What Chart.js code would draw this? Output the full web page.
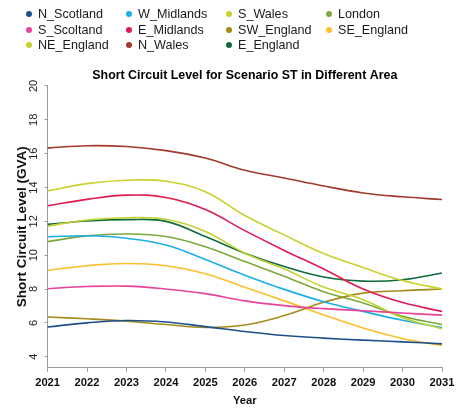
<!DOCTYPE html>
<html>
<head>
<meta charset="utf-8">
<script src="https://cdn.jsdelivr.net/npm/chart.js@4.4.1/dist/chart.umd.min.js"></script>
<style>
  html, body { margin: 0; padding: 0; background: #fff; }
  #wrap { position: relative; width: 475px; height: 413px; }
  #legend {
    position: absolute; left: 26px; top: 6px;
    display: grid;
    grid-template-columns: repeat(4, 100px);
    grid-template-rows: repeat(3, 15.8px);
    grid-auto-flow: column;
    font: 12.6px "Liberation Sans", Arial, sans-serif;
    color: #1a1a1a;
  }
  .item { display: flex; align-items: center; white-space: nowrap; }
  .dot { width: 6px; height: 6px; border-radius: 50%; margin-right: 6px; flex: none; }
</style>
</head>
<body>
<div id="wrap">
  <canvas id="chart" width="475" height="413"></canvas>
  <div id="legend"></div>
</div>
<script>
// года по оси X
const years = ["2021", "2022", "2023", "2024", "2025", "2026", "2027", "2028", "2029", "2030", "2031"];

// значения по районам (GVA)
const nScotland = [5.76, 6.0, 6.14, 6.05, 5.78, 5.49, 5.25, 5.1, 4.98, 4.88, 4.76];
const sScoltand = [8.02, 8.15, 8.17, 8.0, 7.73, 7.3, 7.02, 6.84, 6.72, 6.58, 6.46];
const neEngland = [11.72, 12.08, 12.21, 12.12, 11.4, 10.12, 9.18, 8.12, 7.37, 6.3, 5.65];
const wMidlands = [11.09, 11.15, 11.0, 10.6, 9.75, 8.82, 7.98, 7.25, 6.68, 6.15, 5.72];
const eMidlands = [12.92, 13.3, 13.55, 13.41, 12.7, 11.45, 10.28, 9.18, 8.0, 7.2, 6.68];
const nWales = [16.33, 16.47, 16.42, 16.18, 15.74, 15.02, 14.56, 14.09, 13.68, 13.45, 13.29];
const sWales = [13.8, 14.23, 14.43, 14.37, 13.75, 12.35, 11.2, 10.1, 9.27, 8.5, 8.0];
const swEngland = [6.35, 6.24, 6.1, 5.9, 5.73, 5.87, 6.43, 7.22, 7.76, 7.9, 8.0];
const eEngland = [11.82, 12.02, 12.1, 12.0, 11.1, 10.12, 9.33, 8.71, 8.47, 8.55, 8.95];
const london = [10.8, 11.14, 11.25, 11.1, 10.5, 9.62, 8.76, 7.84, 7.18, 6.39, 5.9];
const seEngland = [9.1, 9.38, 9.51, 9.38, 8.9, 8.1, 7.3, 6.47, 5.7, 5.08, 4.66];

const areaNames = ["N_Scotland", "S_Scoltand", "NE_England", "W_Midlands", "E_Midlands", "N_Wales",
  "S_Wales", "SW_England", "E_England", "London", "SE_England"];
const areaValues = [nScotland, sScoltand, neEngland, wMidlands, eMidlands, nWales,
  sWales, swEngland, eEngland, london, seEngland];
const areaColors = ["#1f4f8b", "#e8429a", "#c2d22e", "#1aaee8", "#e01b4f", "#a2392b",
  "#cbd02a", "#a68a1b", "#0e6b3b", "#7ca83c", "#fdbe2c"];

// деления оси Y
const yTicks = [4, 6, 8, 10, 12, 14, 16, 18, 20];

const sans = "'Liberation Sans', Arial, sans-serif";

const datasets = areaNames.map((name, i) => ({
  label: name,
  data: areaValues[i],
  borderColor: areaColors[i],
  backgroundColor: areaColors[i],
  borderWidth: 1.6,
  pointRadius: 0,
  tension: 0.4,
  fill: false,
}));

const chart = new Chart(document.getElementById("chart"), {
  type: "line",
  data: { labels: years, datasets: datasets },
  options: {
    responsive: false,
    animation: false,
    layout: { padding: { left: 5, right: 33, top: 68.2, bottom: 5.4 } },
    plugins: {
      legend: { display: false },
      tooltip: { enabled: false },
      title: {
        display: true,
        fullSize: false,
        text: "Short Circuit Level for Scenario ST in Different Area",
        color: "#000",
        font: { family: sans, size: 12.4, weight: "bold" },
        padding: { top: 0, bottom: 2.9 },
      },
    },
    scales: {
      x: {
        type: "category",
        offset: false,
        grid: { display: true, drawOnChartArea: false, drawTicks: true, tickLength: 4, color: "#9a9a9a" },
        border: { display: true, color: "#9a9a9a" },
        ticks: {
          color: "#111",
          padding: 4.5,
          maxRotation: 0,
          autoSkip: false,
          font: { family: sans, size: 11.2, weight: "bold" },
        },
        title: {
          display: true,
          text: "Year",
          color: "#111",
          font: { family: sans, size: 11.2, weight: "bold" },
          padding: { top: 0, bottom: 0 },
        },
      },
      y: {
        min: 3.35,
        max: 20,
        afterBuildTicks: (scale) => {
          scale.ticks = yTicks.map((v) => ({ value: v }));
        },
        grid: { display: true, drawOnChartArea: false, drawTicks: true, tickLength: 3, color: "#9a9a9a" },
        border: { display: true, color: "#9a9a9a" },
        ticks: {
          color: "#222",
          padding: 5,
          minRotation: 90,
          maxRotation: 90,
          crossAlign: "center",
          font: { family: sans, size: 11, lineHeight: 0.3 },
        },
        title: {
          display: true,
          text: "Short Circuit Level (GVA)",
          color: "#111",
          font: { family: sans, size: 13.5, weight: "bold" },
          padding: { top: 9, bottom: 1.1 },
        },
      },
    },
  },
});

// Легенда в виде сетки 4 x 3
function renderLegend() {
  const box = document.getElementById("legend");
  box.innerHTML = "";
  chart.data.datasets.forEach((ds) => {
    const item = document.createElement("div");
    item.className = "item";
    item.innerHTML = `<span class="dot" style="background:${ds.borderColor}"></span><span>${ds.label}</span>`;
    box.appendChild(item);
  });
}
renderLegend();
</script>
</body>
</html>
